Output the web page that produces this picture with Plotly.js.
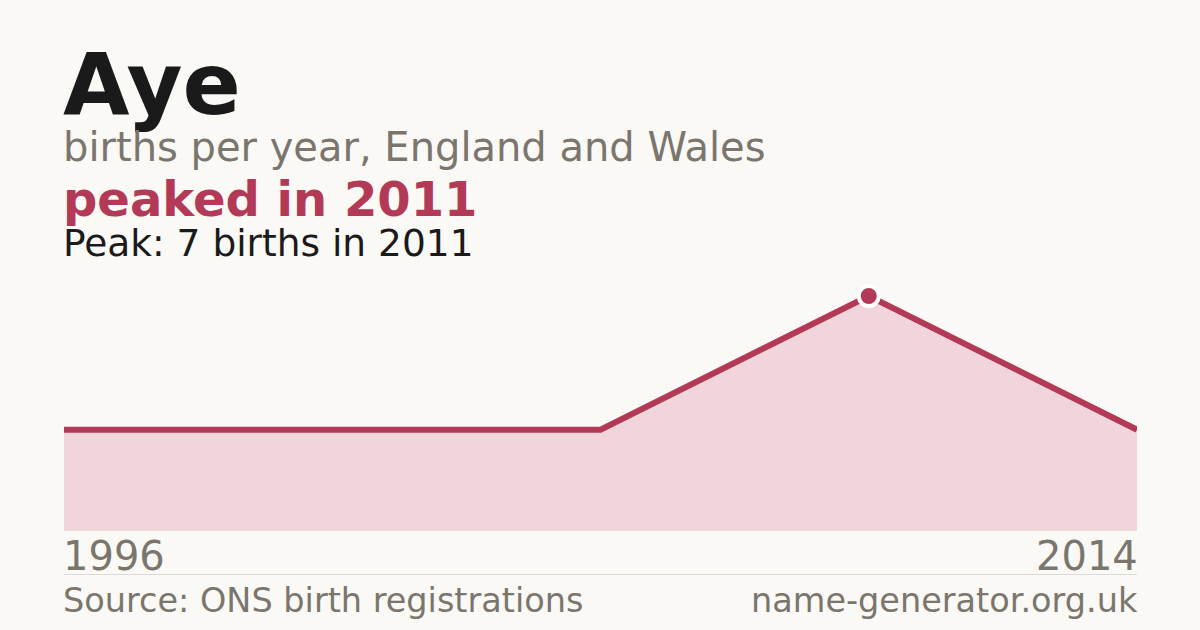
<!DOCTYPE html>
<html>
<head>
<meta charset="utf-8">
<script src="https://cdn.plot.ly/plotly-3.0.1.min.js"></script>
<style>
  html, body { margin: 0; padding: 0; background: #faf9f5; }
  #chart { width: 1200px; height: 630px; }
</style>
</head>
<body>
<div id="chart"></div>
<script>
"use strict"
// years that have a recorded count (plotted evenly, one step per entry)
let years = ['1996', '2003', '2008', '2011', '2014'];
let births = [3, 3, 3, 7, 3];
let peakYear = '2011';
let peakBirths = 7;

const crimson = '#b33a56';
const grey = '#7a766e';
const font = 'DejaVu Sans, sans-serif';

// plot area in pixels: top 296, bottom 530
function py(pix) {
    return (530 - pix) / 234;
}

var trace1 = {
    x: years,
    y: births,
    type: 'scatter',
    mode: 'lines',
    fill: 'tozeroy',
    fillcolor: '#f1d5da',
    line: { color: crimson, width: 6 },
    hoverinfo: 'none',
    cliponaxis: false
};

var peak = {
    x: [peakYear],
    y: [peakBirths],
    type: 'scatter',
    mode: 'markers',
    marker: { color: crimson, size: 20, line: { color: '#ffffff', width: 4 } },
    hoverinfo: 'none',
    cliponaxis: false
};

var data = [trace1, peak];

function note(text, x, y, size, color, weight, anchor) {
    anchor = anchor || 'left';
    return {
        text: text, x: x, y: y, xref: 'paper', yref: 'paper',
        xanchor: anchor, yanchor: 'middle', showarrow: false,
        borderpad: 0, xshift: anchor === 'left' ? -2 : 2,
        font: { family: font, size: size, color: color, weight: weight || 'normal' }
    };
}

var layout = {
    width: 1200,
    height: 630,
    margin: { l: 64, r: 63, t: 296, b: 100 },
    paper_bgcolor: '#faf9f5',
    plot_bgcolor: '#faf9f5',
    showlegend: false,
    xaxis: {
        type: 'category',
        range: [0, years.length - 1],
        showgrid: false,
        zeroline: false,
        showticklabels: false,
        ticks: '',
        showline: true,
        linecolor: '#e4e1da',
        linewidth: 1
    },
    yaxis: {
        range: [0, peakBirths],
        showgrid: false,
        zeroline: false,
        showticklabels: false,
        ticks: ''
    },
    shapes: [{
        type: 'line', xref: 'paper', yref: 'paper',
        x0: 0, x1: 1, y0: py(574.5), y1: py(574.5),
        line: { color: '#dddad3', width: 1 }
    }],
    annotations: [
        note('Aye', 0, py(84), 86, '#1a1a1a', 'bold'),
        note('births per year, England and Wales', 0, py(146.5), 40, grey),
        note('peaked in ' + peakYear, 0, py(198.5), 48, crimson, 'bold'),
        note('Peak: ' + peakBirths + ' births in ' + peakYear, 0, py(242.5), 37.5, '#1a1a1a'),
        // first and last year under the plot ends
        note(years[0], 0, py(556), 40, grey, 'normal', 'left'),
        note(years[years.length - 1], 1, py(556), 40, grey, 'normal', 'right'),
        note('Source: ONS birth registrations', 0, py(600.5), 33.5, grey),
        note('name-generator.org.uk', 1, py(600.5), 33.5, grey, 'normal', 'right')
    ]
};

Plotly.newPlot('chart', data, layout, { staticPlot: true });
</script>
</body>
</html>
